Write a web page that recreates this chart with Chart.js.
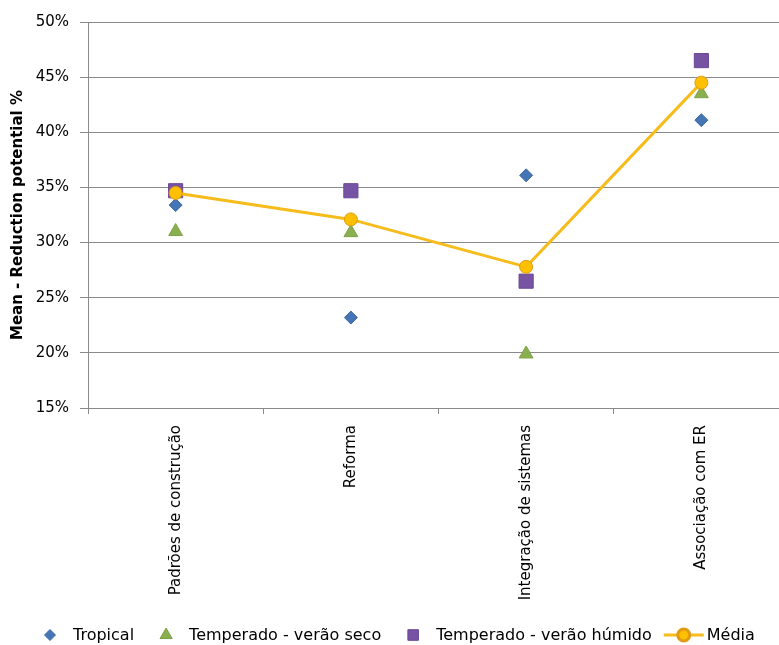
<!DOCTYPE html>
<html>
<head>
<meta charset="utf-8">
<script src="https://cdn.jsdelivr.net/npm/chart.js@4.4.1/dist/chart.umd.min.js"></script>
<style>
  html, body { margin: 0; padding: 0; background: #fff; overflow: hidden; }
  canvas { display: block; }
</style>
</head>
<body>
<canvas id="chart" width="790" height="645" style="width:790px;height:645px"></canvas>
<script>
// Reduction potential (%) per measure and climate group
const categories = ['Padrões de construção', 'Reforma', 'Integração de sistemas', 'Associação com ER'];
const tropical = [33.4, 23.2, 36.1, 41.1];
const temperadoSeco = [31.0, 30.9, 19.9, 43.5];
const temperadoHumido = [34.7, 34.7, 26.5, 46.5];
const media = [34.5, 32.1, 27.8, 44.5];
const yTickValues = [15, 20, 25, 30, 35, 40, 45, 50];
const yTickLabels = ['15%', '20%', '25%', '30%', '35%', '40%', '45%', '50%'];
const seriesNames = ['Tropical', 'Temperado - verão seco', 'Temperado - verão húmido', 'Média'];

const FONT = 'DejaVu Sans';
const AXIS_GREY = '#8a8a8a';

// Legend drawn along the bottom: symbol, then its label, items chained left to right
const bottomLegend = {
  id: 'bottomLegend',
  afterDraw(chart) {
    const ctx = chart.ctx;
    const y = 635;
    const textOffset = 23;   // symbol centre to label start
    const itemGap = 32;      // label end to next symbol centre
    const lineHalf = 20;     // half length of the line sample
    let cx = 50;
    const order = [1, 2, 3, 0];
    ctx.save();
    ctx.font = '16px "' + FONT + '"';
    ctx.textBaseline = 'middle';
    ctx.textAlign = 'left';
    order.forEach(i => {
      const ds = chart.data.datasets[i];
      if (ds.showLine !== false) {
        ctx.strokeStyle = ds.borderColor;
        ctx.lineWidth = ds.borderWidth;
        ctx.beginPath();
        ctx.moveTo(cx - lineHalf, y);
        ctx.lineTo(cx + lineHalf, y);
        ctx.stroke();
      }
      ctx.fillStyle = ds.pointBackgroundColor;
      ctx.strokeStyle = ds.pointBorderColor;
      Chart.helpers.drawPoint(ctx, {
        pointStyle: ds.pointStyle,
        radius: ds.legendRadius,
        rotation: 0,
        borderWidth: ds.pointBorderWidth
      }, cx, y);
      ctx.fillStyle = '#000';
      const tx = cx + textOffset;
      ctx.fillText(ds.label, tx, y + 1);
      cx = tx + ctx.measureText(ds.label).width + itemGap;
    });
    ctx.restore();
  }
};

new Chart(document.getElementById('chart'), {
  type: 'line',
  data: {
    labels: categories,
    datasets: [
      {
        label: seriesNames[3],
        data: media,
        borderColor: '#F6BC1C',
        borderWidth: 3,
        tension: 0,
        pointStyle: 'circle',
        pointRadius: 6.5,
        legendRadius: 6,
        pointBackgroundColor: '#FFC000',
        pointBorderColor: '#E09B12',
        pointBorderWidth: 1,
        order: 0
      },
      {
        label: seriesNames[0],
        data: tropical,
        showLine: false,
        pointStyle: 'rectRot',
        pointRadius: 6.5,
        legendRadius: 5.5,
        pointBackgroundColor: '#4575B5',
        pointBorderColor: '#3E69A3',
        pointBorderWidth: 1,
        order: 1
      },
      {
        label: seriesNames[1],
        data: temperadoSeco,
        showLine: false,
        pointStyle: 'triangle',
        pointRadius: 8,
        legendRadius: 7,
        pointBackgroundColor: '#8AAF4F',
        pointBorderColor: '#7EA146',
        pointBorderWidth: 1,
        order: 2
      },
      {
        label: seriesNames[2],
        data: temperadoHumido,
        showLine: false,
        pointStyle: 'rect',
        pointRadius: 10,
        legendRadius: 7.5,
        pointBackgroundColor: '#7753A3',
        pointBorderColor: '#6B4896',
        pointBorderWidth: 1,
        order: 3
      }
    ]
  },
  options: {
    responsive: false,
    maintainAspectRatio: false,
    animation: false,
    devicePixelRatio: 1,
    // the canvas is a little wider than the page, so the plot runs past the right edge
    layout: { autoPadding: false, padding: { left: 9, top: 22, right: 1, bottom: 0 } },
    plugins: {
      legend: { display: false },
      tooltip: { enabled: false }
    },
    scales: {
      x: {
        type: 'category',
        offset: true,
        grid: { drawOnChartArea: false, drawTicks: true, tickLength: 6, color: AXIS_GREY, offset: true },
        border: { color: AXIS_GREY, width: 1 },
        ticks: {
          minRotation: 90,
          maxRotation: 90,
          autoSkip: false,
          padding: 11,
          color: '#000',
          font: { family: FONT, size: 15 }
        },
        afterFit(scale) {
          scale.height = 237;
          scale.paddingLeft = 0;
          scale.paddingRight = 0;
        }
      },
      y: {
        min: 15,
        max: 50,
        afterBuildTicks(scale) { scale.ticks = yTickValues.map(v => ({ value: v })); },
        ticks: {
          padding: 11,
          color: '#000',
          font: { family: FONT, size: 15 },
          callback: (v, i) => yTickLabels[i]
        },
        grid: { color: AXIS_GREY, tickLength: 8, lineWidth: 1 },
        border: { color: AXIS_GREY, width: 1 },
        title: {
          display: true,
          text: 'Mean - Reduction potential %',
          color: '#000',
          font: { family: FONT, size: 15, weight: 'bold' },
          padding: { top: 0, bottom: 0 }
        },
        afterFit(scale) { scale.width = 79; }
      }
    }
  },
  plugins: [bottomLegend]
});
</script>
</body>
</html>
